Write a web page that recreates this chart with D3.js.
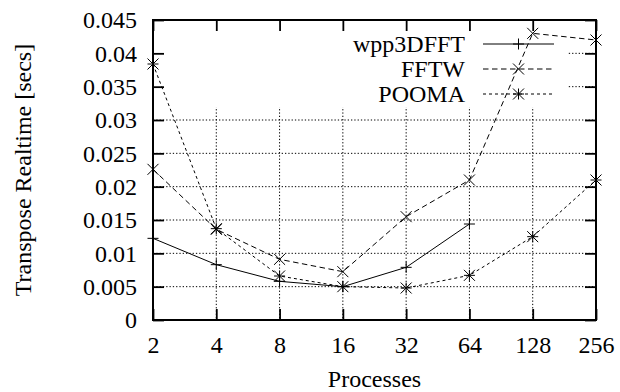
<!doctype html>
<html>
<head>
<meta charset="utf-8"/>
<title>Transpose Realtime</title>
<script src="https://d3js.org/d3.v7.min.js"></script>
<style>
body { margin:0; background:#fff; }
</style>
</head>
<body>
<script>
// data
var procs  = [2, 4, 8, 16, 32, 64, 128, 256];
var wpp    = [0.01225, 0.0083, 0.0058, 0.005, 0.0079, 0.0144];
var fftw   = [0.0226, 0.0136, 0.0091, 0.00725, 0.0155, 0.021, 0.043, 0.042];
var pooma  = [0.0384, 0.0137, 0.0066, 0.005, 0.0048, 0.0067, 0.0125, 0.021];
var yTicks = [0, 0.005, 0.01, 0.015, 0.02, 0.025, 0.03, 0.035, 0.04, 0.045];
var names  = ["wpp3DFFT", "FFTW", "POOMA"];

var W = 620, H = 392;
var L = 153, R = 596, T = 20, B = 320;
var FONT = "'Liberation Serif', 'Times New Roman', serif";

var svg = d3.select("body").append("svg")
  .attr("width", W).attr("height", H);

var x = d3.scaleLog().base(2).domain([2, 256]).range([L, R]);
var y = d3.scaleLinear().domain([0, 0.045]).range([B, T]);

function fmt(d) { return d === 0 ? "0" : String(+d.toFixed(3)); }

// grid
var grid = svg.append("g").attr("stroke", "#000").attr("stroke-width", 1)
  .attr("stroke-dasharray", "1.3,2");
grid.selectAll(".gx").data(procs.slice(1, -1)).enter().append("line")
  .attr("x1", d => x(d)).attr("x2", d => x(d)).attr("y1", T).attr("y2", B);
grid.selectAll(".gy").data(yTicks.slice(1, -1)).enter().append("line")
  .attr("x1", L).attr("x2", R).attr("y1", d => y(d)).attr("y2", d => y(d));

// opaque key area
svg.append("rect").attr("x", L).attr("y", T).attr("width", 568 - L).attr("height", 107 - T)
  .attr("fill", "#fff");

// axes with inward ticks
var ax = svg.append("g");
ax.append("g").attr("transform", "translate(0," + B + ")")
  .call(d3.axisBottom(x).tickValues(procs).tickFormat(d => d).tickSizeInner(-11).tickSizeOuter(0).tickPadding(16));
ax.append("g").attr("transform", "translate(0," + T + ")")
  .call(d3.axisTop(x).tickValues(procs).tickFormat("").tickSizeInner(-11).tickSizeOuter(0));
ax.append("g").attr("transform", "translate(" + L + ",0)")
  .call(d3.axisLeft(y).tickValues(yTicks).tickFormat(fmt).tickSizeInner(-11).tickSizeOuter(0).tickPadding(16));
ax.append("g").attr("transform", "translate(" + R + ",0)")
  .call(d3.axisRight(y).tickValues(yTicks).tickFormat("").tickSizeInner(-11).tickSizeOuter(0));
ax.selectAll(".domain").remove();
ax.selectAll(".tick line").attr("stroke", "#000").attr("stroke-width", 1.8);
ax.selectAll("text").attr("fill", "#000")
  .style("font-family", FONT).style("font-size", "24px");

svg.append("rect").attr("x", L).attr("y", T).attr("width", R - L).attr("height", B - T)
  .attr("fill", "none").attr("stroke", "#000").attr("stroke-width", 2);

// series
var series = [
  { vals: wpp,   dash: null,    mark: "plus" },
  { vals: fftw,  dash: "5.5,3.5", mark: "cross" },
  { vals: pooma, dash: "3,3",   mark: "star" }
];

function marker(g, cx, cy, kind) {
  var s = 5.5, p = "";
  if (kind === "plus" || kind === "star")
    p += "M" + (cx - s) + "," + cy + "H" + (cx + s) + "M" + cx + "," + (cy - s) + "V" + (cy + s);
  if (kind === "cross" || kind === "star")
    p += "M" + (cx - s) + "," + (cy - s) + "L" + (cx + s) + "," + (cy + s) +
         "M" + (cx - s) + "," + (cy + s) + "L" + (cx + s) + "," + (cy - s);
  g.append("path").attr("d", p).attr("stroke", "#000").attr("stroke-width", 1).attr("fill", "none");
}

var line = d3.line().x(d => x(d[0])).y(d => y(d[1]));

series.forEach(function (s, i) {
  var pts = s.vals.map((v, j) => [procs[j], v]);
  svg.append("path").datum(pts).attr("d", line)
    .attr("fill", "none").attr("stroke", "#000").attr("stroke-width", 1)
    .attr("stroke-dasharray", s.dash);
  var g = svg.append("g");
  pts.forEach(p => marker(g, x(p[0]), y(p[1]), s.mark));

  // key entry
  var ky = 44 + i * 25;
  svg.append("text").attr("x", 465).attr("y", ky).attr("dy", "0.33em")
    .attr("text-anchor", "end").style("font-family", FONT).style("font-size", "24px")
    .text(names[i]);
  svg.append("line").attr("x1", 483).attr("x2", 554).attr("y1", ky).attr("y2", ky)
    .attr("stroke", "#000").attr("stroke-width", 1).attr("stroke-dasharray", s.dash);
  marker(svg, 518.5, ky, s.mark);
});

// axis titles
svg.append("text").attr("transform", "translate(31," + ((T + B) / 2) + ") rotate(-90)")
  .attr("text-anchor", "middle").style("font-family", FONT).style("font-size", "24px")
  .text("Transpose Realtime [secs]");
svg.append("text").attr("x", (L + R) / 2).attr("y", 387)
  .attr("text-anchor", "middle").style("font-family", FONT).style("font-size", "24px")
  .text("Processes");
</script>
</body>
</html>
